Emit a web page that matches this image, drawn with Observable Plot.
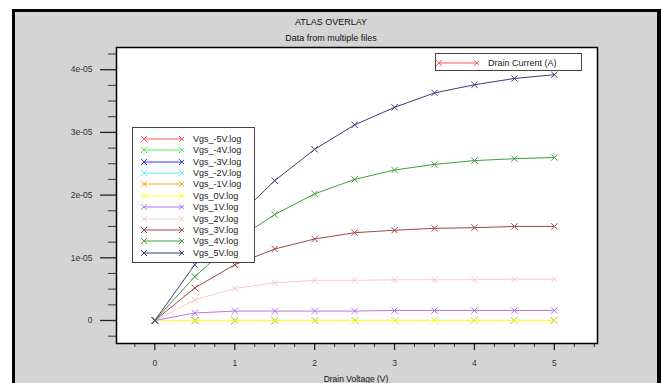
<!DOCTYPE html>
<html><head><meta charset="utf-8">
<script src="https://cdn.jsdelivr.net/npm/d3@7"></script>
<script src="https://cdn.jsdelivr.net/npm/@observablehq/plot@0.6"></script>
<style>
html,body{margin:0;padding:0;background:#fff;width:661px;height:383px;overflow:hidden;font-family:"Liberation Sans",Arial,sans-serif;}
#panel{position:absolute;left:12px;top:9px;width:649px;height:400px;box-sizing:border-box;background:#d4d4d4;border-left:3.5px solid #000;border-top:3.5px solid #000;border-right:4px solid #000;}
.ttl{position:absolute;left:231px;width:200px;text-align:center;font-size:9px;line-height:10px;color:#111;}
#xlab{position:absolute;left:256px;width:200px;text-align:center;font-size:8.5px;line-height:10px;color:#111;top:374px;}
#chart{position:absolute;left:0;top:0;}
.leg{position:absolute;background:#fff;border:1px solid #444;box-sizing:border-box;}
.row{position:absolute;left:0;height:10px;width:100%;}
.row svg{position:absolute;left:0;top:0;}
.row span{position:absolute;font-size:9px;line-height:10px;color:#1a1a1a;white-space:nowrap;}
</style></head>
<body>
<div id="panel"></div>
<div class="ttl" style="top:17px">ATLAS OVERLAY</div>
<div class="ttl" style="top:33px">Data from multiple files</div>
<div id="chart"></div>
<div id="xlab">Drain Voltage (V)</div>
<div id="leg1" class="leg" style="left:435px;top:53px;width:147px;height:18px"></div>
<div id="leg2" class="leg" style="left:132px;top:127px;width:123px;height:136px"></div>
<script>
// Drain voltage (V)
const vds = [0, 0.5, 1, 1.5, 2, 2.5, 3, 3.5, 4, 4.5, 5];
// Series names and colours
const vgsNames = ["Vgs_-5V.log","Vgs_-4V.log","Vgs_-3V.log","Vgs_-2V.log","Vgs_-1V.log","Vgs_0V.log","Vgs_1V.log","Vgs_2V.log","Vgs_3V.log","Vgs_4V.log","Vgs_5V.log"];
const vgsColors = ["#ff5a5a","#5cf05c","#3838e8","#5cf0f0","#ffa514","#ffff30","#b276f0","#f2cccc","#a04848","#3ea03e","#3c3c78"];
// Drain current (A)
const idM5 = [0,0,0,0,0,0,0,0,0,0,0];
const idM4 = [0,0,0,0,0,0,0,0,0,0,0];
const idM3 = [0,0,0,0,0,0,0,0,0,0,0];
const idM2 = [0,0,0,0,0,0,0,0,0,0,0];
const idM1 = [0,0,0,0,0,0,0,0,0,0,0];
const id0  = [0,0,0,0,0,0,0,0,0,0,0];
const idP1 = [0,0.12e-5,0.15e-5,0.15e-5,0.15e-5,0.15e-5,0.16e-5,0.16e-5,0.16e-5,0.16e-5,0.16e-5];
const idP2 = [0,0.33e-5,0.51e-5,0.60e-5,0.64e-5,0.64e-5,0.65e-5,0.65e-5,0.65e-5,0.66e-5,0.66e-5];
const idP3 = [0,0.52e-5,0.89e-5,1.14e-5,1.30e-5,1.40e-5,1.44e-5,1.47e-5,1.48e-5,1.50e-5,1.50e-5];
const idP4 = [0,0.70e-5,1.27e-5,1.69e-5,2.02e-5,2.25e-5,2.40e-5,2.49e-5,2.55e-5,2.58e-5,2.60e-5];
const idP5 = [0,0.89e-5,1.61e-5,2.23e-5,2.73e-5,3.12e-5,3.40e-5,3.63e-5,3.76e-5,3.86e-5,3.92e-5];
const seriesValues = [idM5,idM4,idM3,idM2,idM1,id0,idP1,idP2,idP3,idP4,idP5];
// Tick labels
const yTickValues = [0, 1e-5, 2e-5, 3e-5, 4e-5];
const yTickLabels = ["0","1e-05","2e-05","3e-05","4e-05"];
const xTickValues = [0,1,2,3,4,5];
const xTickLabels = ["0","1","2","3","4","5"];
const legendTitle = "Drain Current (A)";

const rows = [];
seriesValues.forEach((vals, i) => vals.forEach((v, j) => rows.push({vgs: vgsNames[i], vds: vds[j], id: v})));

const yMinor = d3.range(-1, 18).map(k => k * 0.25e-5).filter(v => !yTickValues.some(t => Math.abs(t - v) < 1e-9));
const xMinor = d3.range(-1, 23).map(k => k * 0.25).filter(v => !xTickValues.includes(v));
const yLab = new Map(yTickValues.map((v, i) => [v, yTickLabels[i]]));
const xLab = new Map(xTickValues.map((v, i) => [v, xTickLabels[i]]));

const chart = Plot.plot({
  width: 661, height: 383,
  marginLeft: 116, marginRight: 64, marginTop: 47, marginBottom: 40,
  style: {background: "transparent", fontFamily: "Liberation Sans, Arial, sans-serif", fontSize: "8.5px", color: "#333", overflow: "visible"},
  x: {domain: [-0.48, 5.54], label: null},
  y: {domain: [-0.367e-5, 4.354e-5], label: null},
  color: {domain: vgsNames, range: vgsColors},
  marks: [
    Plot.frame({fill: "white", stroke: "none"}),
    Plot.axisY(yTickValues, {tickSize: 16, tickPadding: 8, tickFormat: d => yLab.get(d), label: null, stroke: "#222", strokeWidth: 1.3, fill: "#333"}),
    Plot.axisY(yMinor, {tickSize: 8, tickFormat: () => "", label: null, stroke: "#333", strokeWidth: 1}),
    Plot.axisX(xTickValues, {tickSize: 7, tickPadding: 9, tickFormat: d => xLab.get(d), label: null, stroke: "#222", strokeWidth: 1.3, fill: "#333"}),
    Plot.axisX(xMinor, {tickSize: 4, tickFormat: () => "", label: null, stroke: "#333", strokeWidth: 1}),
    Plot.line(rows, {x: "vds", y: "id", z: "vgs", stroke: "vgs", strokeWidth: 1}),
    Plot.dot(rows, {x: "vds", y: "id", stroke: "vgs", symbol: "times", r: 3, strokeWidth: 1}),
    Plot.frame({stroke: "#000", strokeWidth: 1.5})
  ]
});
document.getElementById("chart").appendChild(chart);

function sample(color) {
  const ns = "http://www.w3.org/2000/svg";
  const s = document.createElementNS(ns, "svg");
  s.setAttribute("width", 50); s.setAttribute("height", 10);
  s.innerHTML = `<line x1="10" y1="5" x2="48" y2="5" stroke="${color}" stroke-width="1.2"/>` +
    [10, 48].map(x => `<path d="M${x-3},2L${x+3},8M${x-3},8L${x+3},2" stroke="${color}" stroke-width="1" fill="none"/>`).join("");
  return s;
}
function addRow(box, top, color, label, svgLeft, textLeft) {
  const r = document.createElement("div");
  r.className = "row"; r.style.top = top + "px";
  const s = sample(color); s.style.left = svgLeft + "px";
  const t = document.createElement("span"); t.textContent = label; t.style.left = textLeft + "px";
  r.appendChild(s); r.appendChild(t); box.appendChild(r);
}
const leg1 = document.getElementById("leg1");
addRow(leg1, 4, vgsColors[0], legendTitle, -7, 52);
const leg2 = document.getElementById("leg2");
vgsNames.forEach((n, i) => addRow(leg2, 6 + i * 11.37, vgsColors[i], n, 1, 60));
</script>
</body></html>
